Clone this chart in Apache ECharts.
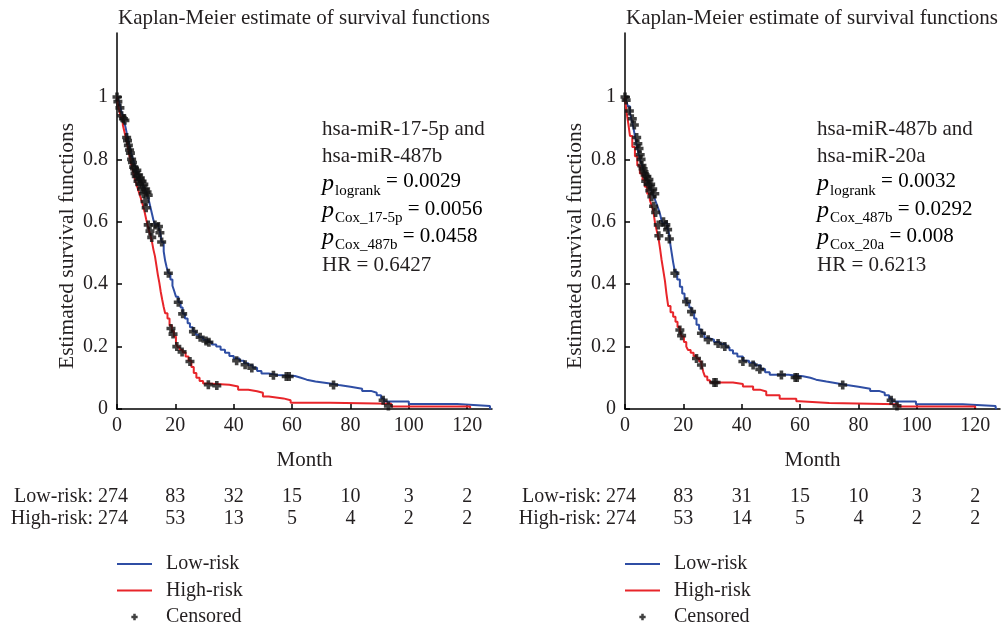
<!DOCTYPE html>
<html><head><meta charset="utf-8">
<script src="https://cdn.jsdelivr.net/npm/echarts@6/dist/echarts.min.js"></script>
<style>html,body{margin:0;padding:0;background:#fff}#c{width:1001px;height:629px}</style>
</head><body><div id="c"></div>
<script>
const FONT = "'Liberation Serif','Times New Roman',serif";
const TXT = '#231f20';
const BLUE = '#2f4ea4', RED = '#e8252a', BLACK = '#111111';

const titleText = 'Kaplan-Meier estimate of survival functions';
const yName = 'Estimated survival functions';
const xName = 'Month';
const xTicks = [0, 20, 40, 60, 80, 100, 120];
const yTicks = [0, 0.2, 0.4, 0.6, 0.8, 1];
const riskTimes = [0, 20, 40, 60, 80, 100, 120];
const lowRiskCountsLeft = [274, 83, 32, 15, 10, 3, 2];
const highRiskCountsLeft = [274, 53, 13, 5, 4, 2, 2];
const lowRiskCountsRight = [274, 83, 31, 15, 10, 3, 2];
const highRiskCountsRight = [274, 53, 14, 5, 4, 2, 2];

const annoLeftNames = ['hsa-miR-17-5p and', 'hsa-miR-487b'];
const annoLeftSubs = ['logrank', 'Cox_17-5p', 'Cox_487b'];
const annoLeftVals = ['0.0029', '0.0056', '0.0458'];
const annoLeftHR = '0.6427';
const annoRightNames = ['hsa-miR-487b and', 'hsa-miR-20a'];
const annoRightSubs = ['logrank', 'Cox_487b', 'Cox_20a'];
const annoRightVals = ['0.0032', '0.0292', '0.008'];
const annoRightHR = '0.6213';

// Left panel (hsa-miR-17-5p and hsa-miR-487b)
const lowRiskLeft = [[0,1],[0.5,0.99],[1,0.975],[1.5,0.955],[2,0.94],[2.5,0.92],[3,0.9],[3.5,0.875],[4,0.855],[4.5,0.835],[5,0.815],[5.5,0.8],[6,0.785],[6.5,0.77],[7,0.758],[7.5,0.747],[8,0.737],[8.5,0.726],[9,0.715],[9.5,0.705],[10,0.695],[10.5,0.68],[11,0.665],[11.5,0.645],[12,0.625],[12.5,0.605],[13,0.592],[14.2,0.585],[14.8,0.565],[15.3,0.535],[16,0.505],[16.5,0.475],[17,0.455],[17.6,0.435],[18.3,0.415],[19,0.395],[19.6,0.378],[20.2,0.36],[21,0.342],[21.8,0.325],[22.5,0.305],[23.3,0.29],[24.2,0.275],[25,0.262],[26,0.248],[27,0.238],[28,0.23],[29.5,0.222],[31,0.215],[32.5,0.207],[34,0.2],[35.5,0.19],[37,0.18],[38.5,0.17],[40,0.162],[42,0.155],[43.5,0.147],[45,0.14],[46.5,0.132],[48,0.122],[49.5,0.114],[52,0.109],[55,0.106],[61,0.1],[63,0.094],[65,0.088],[68,0.082],[73,0.077],[76,0.071],[80,0.065],[84,0.058],[87,0.052],[89,0.044],[90.5,0.034],[91.5,0.024],[100,0.016],[116.5,0.01],[127.8,0.003],[128.2,0]];
const highRiskLeft = [[0,1],[0.3,0.975],[0.8,0.955],[1.3,0.935],[2,0.91],[2.5,0.89],[3,0.87],[3.5,0.85],[4,0.825],[4.5,0.8],[5,0.78],[5.5,0.76],[6,0.74],[6.5,0.725],[7,0.71],[7.5,0.695],[8,0.68],[8.5,0.665],[9,0.648],[9.5,0.63],[10,0.608],[10.5,0.588],[11,0.57],[11.5,0.555],[12,0.535],[12.5,0.51],[13,0.49],[13.5,0.46],[14,0.43],[14.5,0.405],[15,0.375],[15.5,0.35],[16,0.327],[16.5,0.307],[17.3,0.29],[18,0.268],[18.8,0.25],[19.5,0.232],[20.2,0.21],[20.8,0.198],[21.5,0.19],[22.5,0.182],[23.5,0.168],[24.5,0.155],[25.5,0.135],[26.3,0.115],[27.2,0.1],[28.3,0.09],[29.5,0.082],[31,0.078],[38.5,0.072],[41.5,0.062],[45,0.057],[48,0.052],[50,0.04],[52,0.034],[57,0.028],[59.5,0.02],[73,0.017],[94,0.008],[121,0.003]];
const censoredLeft = [[0,1],[0.3,0.985],[1,0.965],[1.6,0.94],[2.2,0.93],[2.7,0.925],[3.3,0.87],[3.6,0.86],[3.9,0.845],[4.3,0.83],[4.6,0.82],[5,0.8],[5.3,0.79],[5.7,0.775],[6,0.77],[6.2,0.755],[6.6,0.745],[6.8,0.765],[7.2,0.73],[7.4,0.75],[7.8,0.72],[8,0.74],[8.4,0.705],[8.6,0.73],[9,0.69],[9.2,0.72],[9.6,0.665],[9.8,0.705],[10,0.645],[10.3,0.695],[10.7,0.685],[10.7,0.59],[11.3,0.57],[11.9,0.55],[13,0.59],[14.2,0.585],[14.7,0.565],[15.3,0.535],[17.6,0.435],[21,0.342],[22.5,0.305],[26.2,0.248],[28.5,0.23],[30.5,0.218],[31.5,0.214],[41,0.155],[43.9,0.142],[46.2,0.131],[53.6,0.108],[58,0.104],[59,0.104],[74.2,0.077],[91.2,0.028],[18.5,0.258],[19.2,0.24],[20.5,0.2],[22.3,0.183],[25,0.152],[31.3,0.078],[34.2,0.075],[93,0.01]];

// Right panel (hsa-miR-487b and hsa-miR-20a)
const lowRiskRight = [[0,1],[0.5,0.985],[1,0.97],[1.7,0.948],[2.3,0.925],[2.8,0.905],[3.4,0.875],[4,0.845],[4.6,0.82],[5.1,0.8],[5.7,0.785],[6.3,0.77],[6.8,0.755],[7.4,0.74],[8,0.725],[8.5,0.712],[9.1,0.698],[9.7,0.685],[10.3,0.67],[10.9,0.655],[11.5,0.64],[12,0.625],[12.5,0.605],[13,0.595],[14.5,0.585],[15,0.565],[15.5,0.53],[16,0.5],[16.5,0.47],[17.1,0.44],[17.9,0.415],[18.8,0.392],[19.6,0.37],[20.4,0.352],[21.1,0.34],[22,0.325],[22.8,0.31],[23.7,0.29],[24.5,0.27],[25.4,0.255],[26.2,0.242],[27.2,0.228],[28.5,0.222],[30.5,0.215],[32.5,0.208],[34.5,0.198],[35.8,0.188],[37,0.178],[38.5,0.168],[40.4,0.155],[42.5,0.148],[44.5,0.14],[46.5,0.128],[48,0.118],[49.6,0.11],[56,0.105],[61,0.1],[63.5,0.094],[65.5,0.088],[69,0.082],[73,0.077],[76,0.071],[80,0.065],[84,0.058],[87,0.052],[89,0.044],[90.5,0.034],[91.5,0.024],[99.7,0.015],[115.7,0.01],[127,0.003],[127.4,0]];
const highRiskRight = [[0,1],[0.3,0.97],[0.6,0.948],[1.2,0.91],[1.7,0.875],[2.5,0.84],[3.4,0.81],[4.2,0.78],[5.1,0.755],[6,0.735],[6.8,0.712],[7.6,0.69],[8.5,0.67],[9.1,0.652],[9.7,0.635],[10.3,0.595],[10.9,0.57],[11.4,0.552],[12,0.515],[12.5,0.48],[13.1,0.445],[13.7,0.41],[14.2,0.37],[14.8,0.33],[15.6,0.31],[16.5,0.296],[17.3,0.28],[18,0.263],[18.8,0.252],[19.4,0.232],[20.2,0.215],[21,0.2],[21.6,0.189],[22.5,0.18],[23.5,0.17],[24.5,0.162],[25.4,0.152],[26.2,0.141],[26.8,0.12],[27.4,0.104],[28.2,0.092],[29.1,0.085],[37,0.08],[40.4,0.072],[43.9,0.062],[46.2,0.056],[48.4,0.044],[53,0.033],[58.7,0.025],[59.8,0.019],[70,0.015],[93.5,0.008],[120,0.003]];
const censoredRight = [[0,1],[0.4,0.99],[1.5,0.955],[2.5,0.93],[3.2,0.91],[4,0.87],[4.4,0.85],[4.8,0.835],[5.2,0.815],[5.5,0.8],[5.8,0.78],[6.2,0.77],[6.5,0.76],[6.9,0.75],[7.1,0.73],[7.5,0.745],[7.9,0.72],[8.2,0.735],[8.5,0.7],[8.8,0.72],[9.2,0.68],[9.5,0.705],[9.8,0.65],[10.2,0.69],[10.5,0.63],[11.4,0.59],[11.6,0.555],[13.2,0.6],[14,0.59],[14.6,0.575],[15.2,0.545],[17.1,0.435],[21.1,0.344],[22.8,0.312],[26.2,0.243],[28.5,0.222],[31.9,0.21],[34.2,0.2],[40.4,0.152],[43.9,0.141],[46.2,0.127],[53.6,0.109],[58.3,0.101],[59,0.101],[74.6,0.077],[91.2,0.028],[18.8,0.253],[19.4,0.235],[24.5,0.162],[26.2,0.141],[30.5,0.085],[31.2,0.085],[93.2,0.01]];

const PLUS = 'path://M3,0H7V3H10V7H7V10H3V7H0V3H3Z';
const PLUS_LEG = 'path://M0,0h0.05v0.05h-0.05Z M19.95,19.95h0.05v0.05h-0.05Z M8.2,5.5H11.8V8.2H14.5V11.8H11.8V14.5H8.2V11.8H5.5V8.2H8.2Z';
const LINE_LEG = 'path://M0,0H35V2.2H0Z';

const chart = echarts.init(document.getElementById('c'), null, {renderer: 'canvas'});
const tStyle = {fontFamily: FONT, fontSize: 20, color: TXT};

function xAxisCfg(gi) {
  return {type: 'value', gridIndex: gi, min: 0, max: 128.5, interval: 20,
    axisLine: {show: true, lineStyle: {color: '#000', width: 1.5}},
    axisTick: {show: true, inside: true, length: 5, customValues: xTicks, lineStyle: {color: '#000', width: 1.5}},
    axisLabel: Object.assign({customValues: xTicks, margin: 7}, tStyle),
    splitLine: {show: false},
    name: xName, nameLocation: 'middle', nameGap: 41, nameTextStyle: Object.assign({}, tStyle, {fontSize: 21})};
}
function yAxisCfg(gi) {
  return {type: 'value', gridIndex: gi, min: 0, max: 1.205, interval: 0.2,
    axisLine: {show: true, lineStyle: {color: '#000', width: 1.5}},
    axisTick: {show: true, inside: true, length: 5, customValues: yTicks, lineStyle: {color: '#000', width: 1.5}},
    axisLabel: Object.assign({customValues: yTicks, margin: 9}, tStyle),
    splitLine: {show: false}};
}
function kmSeries(gi, name, data, color, z) {
  return {type: 'line', name, xAxisIndex: gi, yAxisIndex: gi, data, step: 'end',
    symbol: 'none', showSymbol: false, z, lineStyle: {color, width: 2}, itemStyle: {color}};
}
function censSeries(gi, data) {
  return {type: 'scatter', name: 'Censored', xAxisIndex: gi, yAxisIndex: gi, data,
    symbol: PLUS, symbolSize: 9, z: 5, itemStyle: {color: BLACK}};
}
function legendCfg(left) {
  return {left, top: 554, orient: 'vertical', padding: 0, itemWidth: 35, itemHeight: 14, itemGap: 6.5,
    selectedMode: false,
    textStyle: {fontFamily: FONT, fontSize: 20, color: TXT, lineHeight: 20, padding: [0, 0, 0, 9]},
    data: [{name: 'Low-risk', icon: LINE_LEG}, {name: 'High-risk', icon: LINE_LEG}, {name: 'Censored', icon: PLUS_LEG}]};
}

chart.setOption({
  animation: false,
  backgroundColor: '#fff',
  grid: [{left: 117, top: 33, width: 375, height: 376}, {left: 625, top: 33, width: 375, height: 376}],
  xAxis: [xAxisCfg(0), xAxisCfg(1)],
  yAxis: [yAxisCfg(0), yAxisCfg(1)],
  legend: [legendCfg(117), legendCfg(625)],
  series: [
    kmSeries(0, 'Low-risk', lowRiskLeft, BLUE, 2),
    kmSeries(0, 'High-risk', highRiskLeft, RED, 3),
    censSeries(0, censoredLeft),
    kmSeries(1, 'Low-risk', lowRiskRight, BLUE, 2),
    kmSeries(1, 'High-risk', highRiskRight, RED, 3),
    censSeries(1, censoredRight)
  ]
});

function txt(x, y, text, align, size, extra) {
  return Object.assign({type: 'text', x, y, silent: true,
    style: {text, font: (size || 20) + 'px ' + FONT, fill: TXT, textAlign: align || 'left', textVerticalAlign: 'middle'}}, extra || {});
}
const rich = {
  p: {fontFamily: FONT, fontStyle: 'italic', fontSize: 24, lineHeight: 24, verticalAlign: 'top', color: TXT},
  s: {fontFamily: FONT, fontSize: 15, lineHeight: 15, padding: [12, 0, 0, 1], verticalAlign: 'top', color: TXT},
  t: {fontFamily: FONT, fontSize: 21, lineHeight: 24, verticalAlign: 'top', color: TXT}
};
function annoGraphics(x, y0, dy, names, subs, vals, hr) {
  const els = [];
  let y = y0;
  names.forEach(n => { els.push(txt(x, y, n, 'left', 21)); y += dy; });
  subs.forEach((s, i) => {
    els.push({type: 'text', x, y, silent: true,
      style: {text: '{p|p}{s|' + s + '}{t| = ' + vals[i] + '}', rich, textAlign: 'left', textVerticalAlign: 'middle'}});
    y += dy;
  });
  els.push(txt(x, y, 'HR = ' + hr, 'left', 21));
  return els;
}
function riskGraphics(gi, low, high) {
  const els = [];
  [['Low-risk:', low, 497], ['High-risk:', high, 519]].forEach(([label, counts, y]) => {
    riskTimes.forEach((t, i) => {
      const px = chart.convertToPixel({gridIndex: gi}, [t, 0])[0];
      if (i === 0) {
        els.push(txt(px - 24, y, label, 'right'));
        els.push(txt(px - 4, y, String(counts[i]), 'center'));
      } else {
        els.push(txt(px, y, String(counts[i]), 'center'));
      }
    });
  });
  return els;
}
function titleGraphics(gi) {
  const p0 = chart.convertToPixel({gridIndex: gi}, [0, 0]);
  const cx = p0[0] + 187;
  return [
    txt(cx, 18, titleText, 'center', 21),
    txt(p0[0] - 50, 246, yName, 'center', 21.5, {rotation: Math.PI / 2})
  ];
}

chart.setOption({
  graphic: [].concat(
    titleGraphics(0), titleGraphics(1),
    annoGraphics(322, 129, 27.2, annoLeftNames, annoLeftSubs, annoLeftVals, annoLeftHR),
    annoGraphics(817, 129, 27.2, annoRightNames, annoRightSubs, annoRightVals, annoRightHR),
    riskGraphics(0, lowRiskCountsLeft, highRiskCountsLeft),
    riskGraphics(1, lowRiskCountsRight, highRiskCountsRight)
  )
});
</script></body></html>
